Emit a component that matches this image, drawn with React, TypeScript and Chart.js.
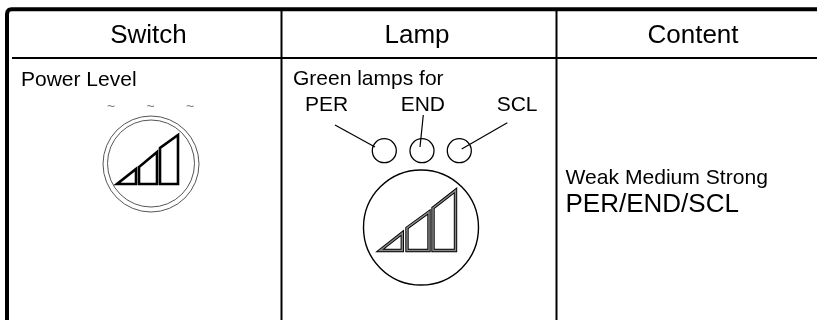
import React, { useEffect, useRef } from "react";
import { Chart, registerables } from "chart.js";

Chart.register(...registerables);

type P = { x: number; y: number };
const pts = (a: number[][]): P[] => a.map(([x, y]) => ({ x, y }));

// Table rules
const frame = pts([[7, 320], [7, 14], [7.6, 11.4], [9, 9.8], [11.5, 9.3], [817, 9.3]]);
const headerRule = pts([[12, 58], [817, 58]]);
const columnRule1 = pts([[281.5, 10], [281.5, 320]]);
const columnRule2 = pts([[556.5, 10], [556.5, 320]]);

// Leader lines
const leaderPer = pts([[335, 125], [375, 147]]);
const leaderEnd = pts([[423.3, 115], [420, 147]]);
const leaderScl = pts([[507.3, 122.7], [461.7, 149]]);

// Signal-bar icon in the Switch column
const switchBars = [
  pts([[127, 184], [136, 184], [136, 169], [117, 184], [127, 184]]),
  pts([[148, 184], [157, 184], [157, 152], [139, 167], [139, 184], [148, 184]]),
  pts([[169, 184], [178, 184], [178, 135], [160, 148], [160, 184], [169, 184]]),
];

// Signal-bar icon in the Lamp column
const lampBars = [
  pts([[390, 250.5], [402.3, 250.5], [402.3, 233], [380, 250.5], [390, 250.5]]),
  pts([[418, 250.5], [429, 250.5], [429, 212], [407, 228], [407, 250.5], [418, 250.5]]),
  pts([[444, 250.5], [455.5, 250.5], [455.5, 190.5], [433, 208], [433, 250.5], [444, 250.5]]),
];

// Circles: x, y, radius in image units
const switchRings = [
  { x: 151, y: 164, r: 48 },
  { x: 151, y: 163.5, r: 43.5 },
];
const lampDots = [
  { x: 384.3, y: 150.7, r: 12 },
  { x: 422, y: 150.7, r: 12 },
  { x: 459.3, y: 150.7, r: 12 },
];
const lampDial = [{ x: 421, y: 227.5, r: 57.5 }];

// Text
const headerLabels = [
  { t: "Switch", x: 148.5, y: 43, s: 26, a: "center" },
  { t: "Lamp", x: 417, y: 43, s: 26, a: "center" },
  { t: "Content", x: 693, y: 43, s: 26, a: "center" },
];
const bodyLabels = [
  { t: "Power Level", x: 21, y: 86, s: 21, a: "left" },
  { t: "Green lamps for", x: 293, y: 85, s: 21, a: "left" },
  { t: "PER", x: 305, y: 110.5, s: 21, a: "left" },
  { t: "END", x: 400.7, y: 110.5, s: 21, a: "left" },
  { t: "SCL", x: 496.7, y: 110.5, s: 21, a: "left" },
  { t: "Weak Medium Strong", x: 565.5, y: 183.5, s: 21.1, a: "left" },
  { t: "PER/END/SCL", x: 565.5, y: 211.5, s: 26, a: "left" },
];
const tildeMarks = [
  { t: "~", x: 111, y: 110.5, s: 14, a: "center" },
  { t: "~", x: 150.7, y: 110.5, s: 14, a: "center" },
  { t: "~", x: 190, y: 110.5, s: 14, a: "center" },
];

const line = (data: P[], w: number, color = "#000") => ({
  type: "scatter" as const,
  data,
  showLine: true,
  borderColor: color,
  borderWidth: w,
  pointRadius: 0,
  pointHoverRadius: 0,
  fill: false,
  tension: 0,
  borderJoinStyle: "miter" as const,
  borderCapStyle: "butt" as const,
  clip: false,
});

const ring = (data: { x: number; y: number; r: number }[], w: number, color = "#000") => ({
  type: "bubble" as const,
  data,
  backgroundColor: "rgba(0,0,0,0)",
  borderColor: color,
  borderWidth: w,
  clip: false,
});

const textPlugin = {
  id: "tableText",
  afterDatasetsDraw(chart: any) {
    const { ctx, scales } = chart;
    ctx.save();
    ctx.textBaseline = "alphabetic";
    for (const l of [...headerLabels, ...bodyLabels]) {
      ctx.fillStyle = "#000";
      ctx.font = `${l.s}px "Liberation Sans"`;
      ctx.textAlign = l.a;
      ctx.fillText(l.t, scales.x.getPixelForValue(l.x), scales.y.getPixelForValue(l.y));
    }
    for (const l of tildeMarks) {
      ctx.fillStyle = "#777";
      ctx.font = `${l.s}px "Liberation Sans"`;
      ctx.textAlign = l.a;
      ctx.fillText(l.t, scales.x.getPixelForValue(l.x), scales.y.getPixelForValue(l.y));
    }
    ctx.restore();
  },
};

export default function App() {
  const ref = useRef<HTMLCanvasElement>(null);
  useEffect(() => {
    document.body.style.margin = "0";
    document.body.style.background = "#fff";
    const chart = new Chart(ref.current!, {
      type: "scatter",
      data: {
        // Chart.js paints the first dataset last, so the grey core comes before the black outline
        datasets: [
          ...lampBars.map((b) => line(b, 1.5, "#888")),
          ...lampBars.map((b) => line(b, 3.4)),
          ...switchBars.map((b) => line(b, 2.6)),
          ring(lampDial, 1.4),
          ring(lampDots, 1.3),
          ring(switchRings, 1, "#555"),
          line(leaderPer, 1.2),
          line(leaderEnd, 1.2),
          line(leaderScl, 1.2),
          line(frame, 4),
          line(headerRule, 2),
          line(columnRule1, 2),
          line(columnRule2, 2),
        ] as any,
      },
      options: {
        animation: false,
        responsive: false,
        layout: { padding: 0, autoPadding: false },
        events: [],
        plugins: { legend: { display: false }, tooltip: { enabled: false } },
        scales: {
          x: { type: "linear", min: 0, max: 817, display: false },
          y: { type: "linear", min: 0, max: 320, reverse: true, display: false },
        },
      },
      plugins: [textPlugin],
    });
    return () => chart.destroy();
  }, []);
  return <canvas ref={ref} width={817} height={320} style={{ display: "block" }} />;
}
